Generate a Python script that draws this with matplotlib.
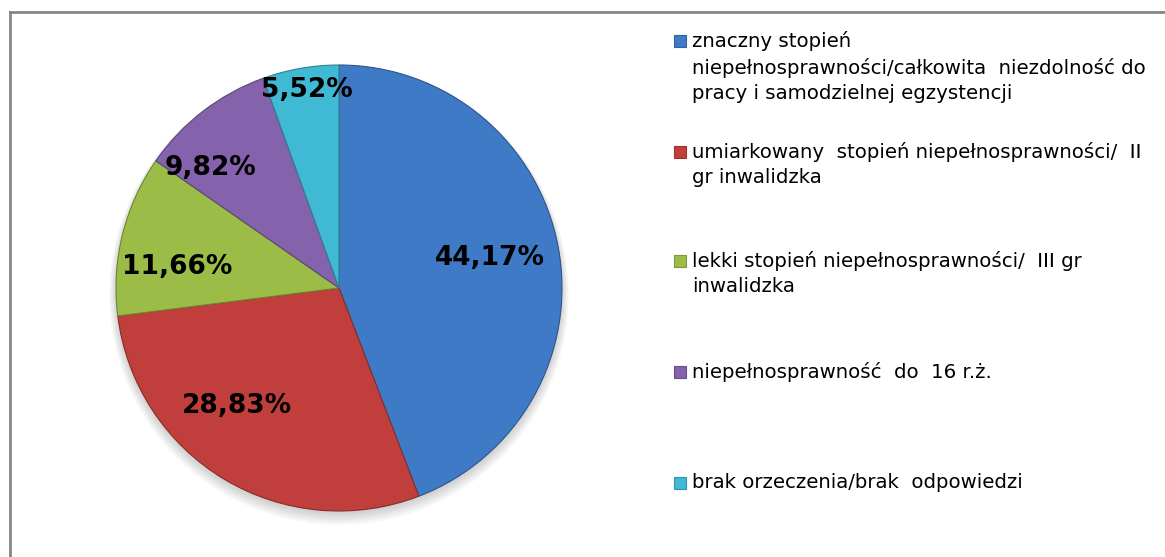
import numpy as np
import matplotlib
matplotlib.use("Agg")
import matplotlib.pyplot as plt
from matplotlib.lines import Line2D
from matplotlib.patches import Rectangle, Circle
import matplotlib.colors as mcolors

# data
categories = [
    "znaczny stopień\nniepełnosprawności/całkowita  niezdolność do\npracy i samodzielnej egzystencji",
    "umiarkowany  stopień niepełnosprawności/  II\ngr inwalidzka",
    "lekki stopień niepełnosprawności/  III gr\ninwalidzka",
    "niepełnosprawność  do  16 r.ż.",
    "brak orzeczenia/brak  odpowiedzi",
]
shares = [44.17, 28.83, 11.66, 9.82, 5.52]
colors = ["#3F7AC6", "#C03F3C", "#9BBD48", "#8462AC", "#40B9D4"]

# label placement (radius fraction, angle shift in degrees) - mimics excel "best fit"
label_radius = [0.69, 0.70, 0.73, 0.79, 0.90]
label_shift = [0.7, -10.0, 6.4, 9.3, -0.8]

W, H = 1165, 557
fig = plt.figure(figsize=(W / 100, H / 100), dpi=100)

# pie placed in pixels: center (339, 288), radius 223
cx, cy, r = 339, 288, 223
pad = 1.05
ax = fig.add_axes([(cx - r * pad) / W, (H - cy - r * pad) / H, 2 * r * pad / W, 2 * r * pad / H])

def darker(c, f=0.75):
    rgb = np.array(mcolors.to_rgb(c))
    return tuple(rgb * f)

# soft shadow under the pie
for k in range(6):
    ax.add_patch(Circle((0.0, -0.012 - 0.004 * k), 1.0 + 0.006 * k,
                        facecolor="#000000", alpha=0.03, lw=0, zorder=0, clip_on=False))

wedges, _ = ax.pie(shares, colors=colors, startangle=90, counterclock=False,
                   radius=1.0, wedgeprops=dict(linewidth=0.8))
for w, c in zip(wedges, colors):
    w.set_edgecolor(darker(c, 0.7))
    w.set_zorder(2)

ax.set_xlim(-pad, pad)
ax.set_ylim(-pad, pad)
ax.set_aspect("equal")
ax.axis("off")

for w, v, rr, sh in zip(wedges, shares, label_radius, label_shift):
    mid = np.deg2rad((w.theta1 + w.theta2) / 2 + sh)
    ax.text(rr * np.cos(mid), rr * np.sin(mid), f"{v:.2f}%".replace(".", ","),
            ha="center", va="center", fontsize=19, fontweight="bold", color="black",
            zorder=5)

# frame (top and left visible, rest runs off the picture)
fig.add_artist(Line2D([10 / W, 1], [1 - 11.5 / H, 1 - 11.5 / H], color="#868686", lw=2))
fig.add_artist(Line2D([10 / W, 10 / W], [0, 1 - 11.5 / H], color="#868686", lw=2))

# legend, drawn by hand
entry_y = [41, 152, 261, 372, 483]
for lab, c, y in zip(categories, colors, entry_y):
    fig.add_artist(Rectangle((674 / W, 1 - (y + 6) / H), 12 / W, 12 / H,
                             facecolor=c, edgecolor=darker(c, 0.8), lw=0.8))
    fig.text(692 / W, 1 - (y - 10) / H, lab, ha="left", va="top",
             fontsize=14.2, color="black", linespacing=1.42)

fig.savefig("out.png", dpi=100, facecolor="white")
